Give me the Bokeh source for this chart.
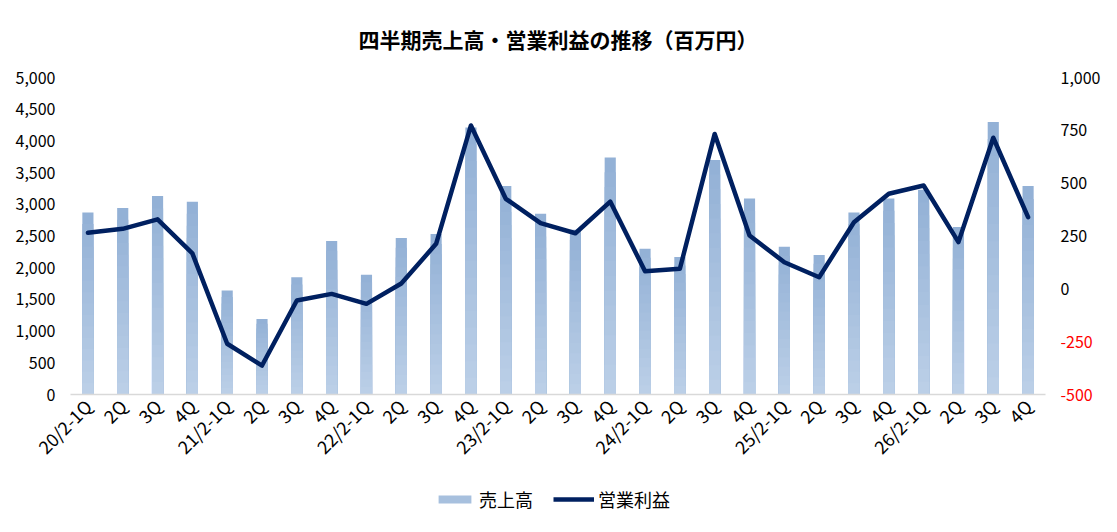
from bokeh.plotting import figure
from bokeh.models import (Range1d, LinearAxis, FixedTicker, NumeralTickFormatter,
                          Legend, LegendItem, ColumnDataSource)
from bokeh.layouts import column
from bokeh.embed import file_html
from bokeh.resources import INLINE
import math

# quarterly data (百万円)
quarters = ["20/2-1Q", "2Q", "3Q", "4Q",
            "21/2-1Q", "2Q", "3Q", "4Q",
            "22/2-1Q", "2Q", "3Q", "4Q",
            "23/2-1Q", "2Q", "3Q", "4Q",
            "24/2-1Q", "2Q", "3Q", "4Q",
            "25/2-1Q", "2Q", "3Q", "4Q",
            "26/2-1Q", "2Q", "3Q", "4Q"]
sales = [2870, 2940, 3130, 3040,
         1640, 1190, 1850, 2420,
         1890, 2470, 2530, 4210,
         3290, 2850, 2600, 3740,
         2300, 2170, 3700, 3090,
         2330, 2200, 2870, 3090,
         3230, 2640, 4300, 3290]
op_income = [265, 284, 329, 168,
             -260, -363, -55, -24,
             -71, 25, 213, 773,
             426, 311, 263, 413,
             83, 95, 733, 252,
             126, 55, 315, 450,
             489, 221, 715, 339]

left_ticks = [0, 500, 1000, 1500, 2000, 2500, 3000, 3500, 4000, 4500, 5000]
right_ticks_pos = [0, 250, 500, 750, 1000]
right_ticks_neg = [-500, -250]

FONT = "Noto Sans CJK JP"
BAR_TOP = (0x93, 0xB1, 0xD6)
BAR_BOT = (0xBB, 0xCF, 0xE7)
LINE_COLOR = "#002060"
xs = list(range(len(quarters)))

p = figure(width=1101, height=464, output_backend="svg", toolbar_location=None,
           x_range=Range1d(-0.5, len(quarters) - 0.5), y_range=Range1d(0, 5000),
           frame_width=975, frame_height=317,
           min_border_left=70, min_border_right=56, min_border_top=77, min_border_bottom=70)
p.extra_y_ranges = {"op": Range1d(-500, 1000)}

p.title.text = "四半期売上高・営業利益の推移（百万円）"
p.title.align = "center"
p.title.vertical_align = "top"
p.title.text_font = FONT
p.title.text_font_size = "21px"
p.title.text_font_style = "bold"
p.title.text_color = "black"
p.title.standoff = 44

p.xgrid.visible = False
p.ygrid.visible = False
p.outline_line_color = None

# bars with a vertical gradient: full bar in the dark colour, then shorter,
# lighter bars drawn over it from the baseline
n_layers = 16
for k in range(n_layers):
    t = k / (n_layers - 1)
    col = "#%02x%02x%02x" % tuple(int(round(BAR_TOP[i] + (BAR_BOT[i] - BAR_TOP[i]) * t)) for i in range(3))
    frac = 1.0 - k / n_layers
    src = ColumnDataSource(dict(x=xs, top=[s * frac for s in sales]))
    p.vbar(x="x", bottom=0, top="top", width=0.32, source=src,
           fill_color=col, line_color=None)

p.line(xs, op_income, y_range_name="op", line_color=LINE_COLOR,
       line_width=4.5, line_join="round", line_cap="round")

# axes
p.xaxis.ticker = FixedTicker(ticks=xs)
p.xaxis.major_label_overrides = {i: q for i, q in enumerate(quarters)}
p.xaxis.major_label_orientation = math.pi / 4
p.xaxis.axis_line_color = "#d9d9d9"
p.xaxis.axis_line_width = 1.5
p.xaxis.major_tick_line_color = None
p.xaxis.minor_tick_line_color = None
p.xaxis.major_tick_out = 0
p.xaxis.major_label_text_font = FONT
p.xaxis.major_label_text_font_size = "18px"
p.xaxis.major_label_text_color = "black"
p.xaxis.major_label_standoff = 8

p.yaxis.ticker = FixedTicker(ticks=left_ticks)
p.yaxis.formatter = NumeralTickFormatter(format="0,0")
p.yaxis.axis_line_color = None
p.yaxis.major_tick_line_color = None
p.yaxis.minor_tick_line_color = None
p.yaxis.major_tick_out = 0
p.yaxis.major_label_text_font = FONT
p.yaxis.major_label_text_font_size = "16px"
p.yaxis.major_label_text_color = "black"
p.yaxis.major_label_standoff = 15


def right_axis(ticks, color, standoff):
    ax = LinearAxis(y_range_name="op", ticker=FixedTicker(ticks=ticks),
                    formatter=NumeralTickFormatter(format="0,0"))
    ax.axis_line_color = None
    ax.major_tick_line_color = None
    ax.minor_tick_line_color = None
    ax.major_tick_out = 0
    ax.major_tick_in = 0
    ax.major_label_text_font = FONT
    ax.major_label_text_font_size = "16px"
    ax.major_label_text_color = color
    ax.major_label_standoff = standoff
    return ax


ax_pos = right_axis(right_ticks_pos, "black", 15)
p.add_layout(ax_pos, "right")
# negative values in red, pulled back over the first right axis
ax_neg = right_axis(right_ticks_neg, "red", -43)
p.add_layout(ax_neg, "right")

# legend strip under the chart: same series, drawn far outside its visible ranges
lf = figure(width=1101, height=60, output_backend="svg", toolbar_location=None,
            x_range=Range1d(1000, 1001), y_range=Range1d(100000, 100001),
            x_axis_location=None, y_axis_location=None,
            min_border=0, outline_line_color=None)
lf.xgrid.visible = False
lf.ygrid.visible = False
mid = "#%02x%02x%02x" % tuple((BAR_TOP[i] + BAR_BOT[i]) // 2 for i in range(3))
r_bar = lf.vbar(x=xs, top=sales, width=0.32, fill_color=mid, line_color=None)
r_line = lf.line(xs, op_income, line_color=LINE_COLOR, line_width=4.5)

legend = Legend(items=[LegendItem(label="売上高", renderers=[r_bar]),
                       LegendItem(label="営業利益", renderers=[r_line])],
                orientation="horizontal", location=(364, 18),
                label_text_font=FONT, label_text_font_size="18px",
                label_text_color="black", border_line_color=None,
                background_fill_alpha=0,
                glyph_width=41, glyph_height=10, label_height=20, label_standoff=4,
                spacing=20, padding=5, margin=0)
lf.add_layout(legend)

layout = column(p, lf, spacing=0)
open("out.html", "w").write(file_html(layout, INLINE))
